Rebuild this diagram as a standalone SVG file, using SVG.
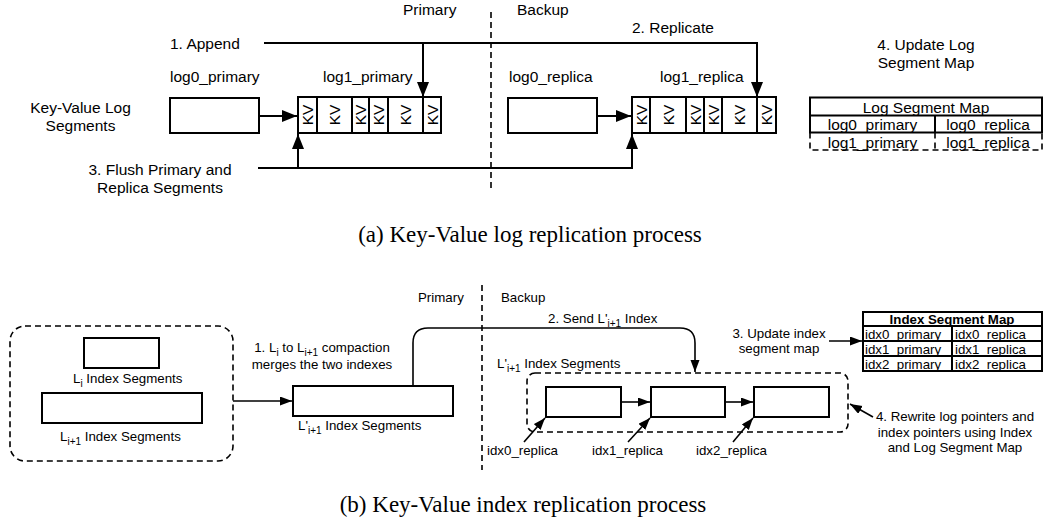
<svg xmlns="http://www.w3.org/2000/svg" width="1047" height="527" viewBox="0 0 1047 527">
<style>
text{font-family:"Liberation Sans",Arial,sans-serif;fill:#000}
.t{font-size:15.5px}
.s{font-size:13.3px}
.cap{font-family:"Liberation Serif","Times New Roman",serif;font-size:23px}
.box{fill:#fff;stroke:#000;stroke-width:2}
.ln{fill:none;stroke:#000;stroke-width:2}
.lns{fill:none;stroke:#000;stroke-width:1.6}
.dash{fill:none;stroke:#000;stroke-width:1.6;stroke-dasharray:6 4}
.kv{font-size:15.5px;text-anchor:middle}
.m{text-anchor:middle}
</style>
<defs>
<marker id="ab" markerUnits="userSpaceOnUse" markerWidth="16" markerHeight="12" refX="15" refY="6" orient="auto"><path d="M0,0 L15,6 L0,12 z" fill="#000"/></marker>
<marker id="as" markerUnits="userSpaceOnUse" markerWidth="13" markerHeight="10" refX="12" refY="4.5" orient="auto"><path d="M0,0 L12,4.5 L0,9 z" fill="#000"/></marker>
</defs>

<!-- (a) top part -->
<g id="dividerA">
<line x1="491" y1="12" x2="491" y2="188" class="dash"/>
<text class="t" x="403" y="15">Primary</text>
<text class="t" x="517" y="15">Backup</text>
</g>

<g id="labelsA">
<text class="t m" x="80.5" y="113">Key-Value Log</text>
<text class="t m" x="80.5" y="130.5">Segments</text>
<text class="t" x="170" y="49">1. Append</text>
<text class="t" x="632" y="33">2. Replicate</text>
<text class="t m" x="160" y="175">3. Flush Primary and</text>
<text class="t m" x="160" y="193">Replica Segments</text>
<text class="t m" x="926" y="50">4. Update Log</text>
<text class="t m" x="926" y="67.5">Segment Map</text>
</g>

<g id="log0_primary">
<text class="t" x="170" y="82">log0_primary</text>
<rect class="box" x="170" y="98" width="89" height="35"/>
</g>

<g id="log1_primary">
<text class="t" x="323" y="82">log1_primary</text>
<rect class="box" x="298" y="97" width="143" height="36"/>
<path class="ln" d="M317,97V133M352,97V133M369,97V133M388,97V133M423,97V133"/>
<text class="kv" transform="translate(307.5,115) rotate(-90)" y="5.5">KV</text>
<text class="kv" transform="translate(334.5,115) rotate(-90)" y="5.5">KV</text>
<text class="kv" transform="translate(360.5,115) rotate(-90)" y="5.5">KV</text>
<text class="kv" transform="translate(378.5,115) rotate(-90)" y="5.5">KV</text>
<text class="kv" transform="translate(405.5,115) rotate(-90)" y="5.5">KV</text>
<text class="kv" transform="translate(432,115) rotate(-90)" y="5.5">KV</text>
</g>

<g id="log0_replica">
<text class="t" x="509" y="82">log0_replica</text>
<rect class="box" x="508" y="98" width="89" height="35"/>
</g>

<g id="log1_replica">
<text class="t" x="660" y="82">log1_replica</text>
<rect class="box" x="632" y="97" width="144" height="36"/>
<path class="ln" d="M650,97V133M686,97V133M704,97V133M722,97V133M757,97V133"/>
<text class="kv" transform="translate(641,115) rotate(-90)" y="5.5">KV</text>
<text class="kv" transform="translate(668,115) rotate(-90)" y="5.5">KV</text>
<text class="kv" transform="translate(695,115) rotate(-90)" y="5.5">KV</text>
<text class="kv" transform="translate(713,115) rotate(-90)" y="5.5">KV</text>
<text class="kv" transform="translate(739.5,115) rotate(-90)" y="5.5">KV</text>
<text class="kv" transform="translate(766.5,115) rotate(-90)" y="5.5">KV</text>
</g>

<g id="log_segment_map">
<rect class="box" x="810" y="97.5" width="232" height="35"/>
<line class="ln" x1="810" y1="115.5" x2="1042" y2="115.5"/>
<line class="ln" x1="935" y1="115.5" x2="935" y2="132.5"/>
<path class="dash" d="M810,132.5V150H1042V132.5M935,132.5V150"/>
<text class="t m" x="926" y="113">Log Segment Map</text>
<text class="t m" x="872.5" y="130">log0_primary</text>
<text class="t m" x="988" y="130">log0_replica</text>
<text class="t m" x="872.5" y="147.5">log1_primary</text>
<text class="t m" x="988" y="147.5">log1_replica</text>
</g>

<g id="connectorsA">
<path class="ln" d="M264,43H757V97" marker-end="url(#ab)"/>
<path class="ln" d="M423,43V97" marker-end="url(#ab)"/>
<path class="ln" d="M259,116H297" marker-end="url(#ab)"/>
<path class="ln" d="M597,116H631" marker-end="url(#ab)"/>
<path class="ln" d="M258,168H632V134" marker-end="url(#ab)"/>
<path class="ln" d="M298,168V134" marker-end="url(#ab)"/>
</g>

<text class="cap m" x="530" y="242">(a) Key-Value log replication process</text>

<!-- (b) bottom part -->
<g id="dividerB">
<line x1="482" y1="285" x2="482" y2="470" class="dash"/>
<text class="s" x="418" y="302">Primary</text>
<text class="s" x="501" y="302">Backup</text>
</g>

<g id="level_group">
<rect class="dash" x="10" y="326" width="223" height="135" rx="15"/>
<rect class="box" x="84" y="338" width="75" height="30"/>
<text class="s" x="73" y="383">L<tspan font-size="10" dy="4">i</tspan><tspan dy="-4"> Index Segments</tspan></text>
<rect class="box" x="42" y="393" width="160" height="30"/>
<text class="s" x="60" y="441">L<tspan font-size="10" dy="4">i+1</tspan><tspan dy="-4"> Index Segments</tspan></text>
</g>

<g id="compaction_label">
<text class="s m" x="322" y="352">1. L<tspan font-size="10" dy="4">i</tspan><tspan dy="-4"> to L</tspan><tspan font-size="10" dy="4">i+1</tspan><tspan dy="-4"> compaction</tspan></text>
<text class="s m" x="322" y="369">merges the two indexes</text>
</g>

<g id="merged_primary">
<rect class="box" x="293" y="386" width="160" height="30"/>
<text class="s" x="298" y="430">L'<tspan font-size="10" dy="4">i+1</tspan><tspan dy="-4"> Index Segments</tspan></text>
</g>

<g id="replica_group">
<rect class="dash" x="527" y="373" width="321" height="59" rx="8"/>
<text class="s" x="497" y="368">L'<tspan font-size="10" dy="4">i+1</tspan><tspan dy="-4"> Index Segments</tspan></text>
</g>

<g id="idx0_replica">
<rect class="box" x="546" y="387" width="75" height="30"/>
<text class="s" x="487" y="455">idx0_replica</text>
</g>
<g id="idx1_replica">
<rect class="box" x="651" y="387" width="74" height="30"/>
<text class="s" x="592" y="455">idx1_replica</text>
</g>
<g id="idx2_replica">
<rect class="box" x="754" y="387" width="75" height="30"/>
<text class="s" x="696" y="455">idx2_replica</text>
</g>

<g id="labelsB">
<text class="s" x="548" y="323">2. Send L'<tspan font-size="10" dy="4">i+1</tspan><tspan dy="-4"> Index</tspan></text>
<text class="s m" x="779" y="338">3. Update index</text>
<text class="s m" x="779" y="353">segment map</text>
<text class="s m" x="955" y="421">4. Rewrite log pointers and</text>
<text class="s m" x="955" y="437">index pointers using Index</text>
<text class="s m" x="955" y="452">and Log Segment Map</text>
</g>

<g id="index_segment_map">
<rect class="box" x="863" y="312" width="179" height="59"/>
<path class="ln" d="M863,326H1042M863,341H1042M863,356H1042M952,326V371"/>
<text class="s m" x="952" y="324" font-weight="bold" font-size="13.5">Index Segment Map</text>
<text class="s" x="865" y="338.5">idx0_primary</text>
<text class="s" x="955" y="338.5">idx0_replica</text>
<text class="s" x="865" y="353.5">idx1_primary</text>
<text class="s" x="955" y="353.5">idx1_replica</text>
<text class="s" x="865" y="368.5">idx2_primary</text>
<text class="s" x="955" y="368.5">idx2_replica</text>
</g>

<g id="connectorsB">
<path class="lns" d="M233,401H292" marker-end="url(#as)"/>
<path class="lns" d="M413,386V343Q413,328 428,328H680Q695,328 695,343V372" marker-end="url(#as)"/>
<path class="lns" d="M621,402H650" marker-end="url(#as)"/>
<path class="lns" d="M725,402H753" marker-end="url(#as)"/>
<path class="lns" d="M524,442L545,418" marker-end="url(#as)"/>
<path class="lns" d="M628,442L650,418" marker-end="url(#as)"/>
<path class="lns" d="M733,442L753,418" marker-end="url(#as)"/>
<path class="lns" d="M829,341H862" marker-end="url(#as)"/>
<path class="lns" d="M873,417L850,404" marker-end="url(#as)"/>
</g>

<text class="cap m" x="523" y="512">(b) Key-Value index replication process</text>
</svg>
